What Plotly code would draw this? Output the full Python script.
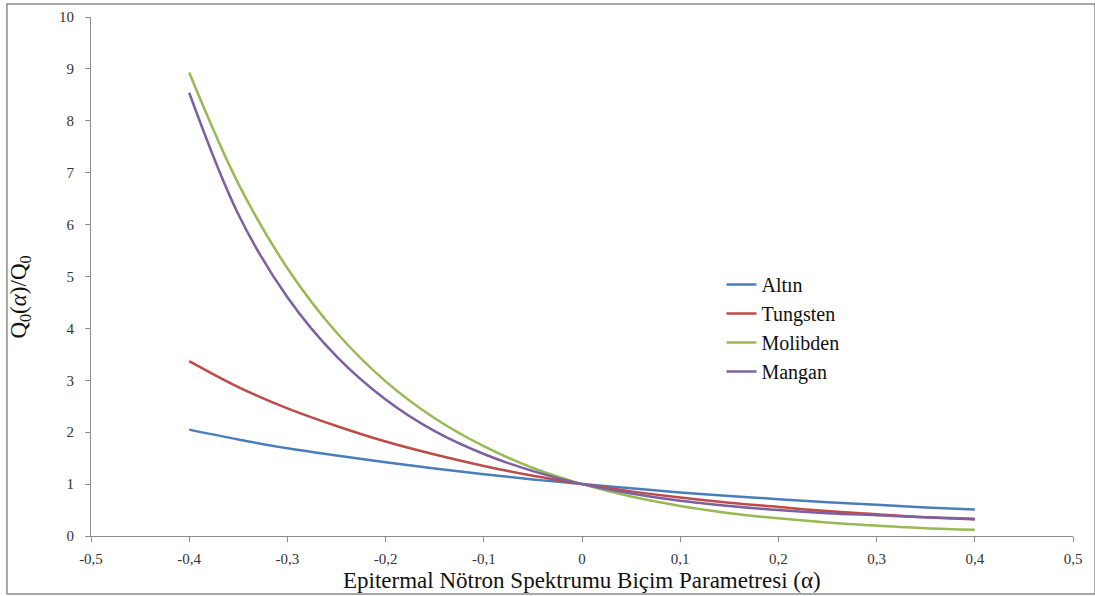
import plotly.graph_objects as go

alpha = [-0.4, -0.35, -0.3, -0.25, -0.2, -0.15, -0.1, -0.05, 0.0,
         0.05, 0.1, 0.15, 0.2, 0.25, 0.3, 0.35, 0.4]

altin = [2.05, 1.86, 1.69, 1.55, 1.42, 1.30, 1.19, 1.09, 1.00,
         0.92, 0.84, 0.77, 0.71, 0.65, 0.60, 0.55, 0.51]
tungsten = [3.37, 2.87, 2.46, 2.12, 1.82, 1.57, 1.35, 1.16, 1.00,
            0.86, 0.74, 0.64, 0.56, 0.48, 0.42, 0.36, 0.32]
molibden = [8.93, 6.79, 5.16, 3.92, 2.98, 2.27, 1.73, 1.31, 1.00,
            0.76, 0.58, 0.44, 0.34, 0.26, 0.20, 0.15, 0.12]
mangan = [8.54, 6.20, 4.60, 3.46, 2.63, 2.02, 1.58, 1.25, 1.00,
          0.82, 0.68, 0.58, 0.50, 0.44, 0.40, 0.36, 0.33]

series = [("Altın", altin, "#4A7EBB"),
          ("Tungsten", tungsten, "#BE4B48"),
          ("Molibden", molibden, "#98B954"),
          ("Mangan", mangan, "#7D60A0")]

x_ticks = [-0.5, -0.4, -0.3, -0.2, -0.1, 0.0, 0.1, 0.2, 0.3, 0.4, 0.5]
x_ticktext = ["-0,5", "-0,4", "-0,3", "-0,2", "-0,1", "0", "0,1", "0,2", "0,3", "0,4", "0,5"]
y_ticks = [0, 1, 2, 3, 4, 5, 6, 7, 8, 9, 10]

fig = go.Figure()
for name, vals, col in series:
    fig.add_trace(go.Scatter(x=alpha, y=vals, name=name, mode="lines",
                             line=dict(color=col, width=2.5, shape="spline")))

serif = "Liberation Serif"
axis_col = "#8c8c8c"

fig.update_layout(
    width=1095, height=596,
    margin=dict(l=91, r=22, t=17, b=60),
    paper_bgcolor="white", plot_bgcolor="white",
    font=dict(family=serif, color="#222"),
    showlegend=True,
    legend=dict(x=0.642, y=0.522, xanchor="left", yanchor="top",
                font=dict(family=serif, size=20, color="#111"),
                bgcolor="rgba(0,0,0,0)", itemwidth=30, tracegroupgap=0),
    xaxis=dict(range=[-0.5, 0.5], tickvals=x_ticks, ticktext=x_ticktext,
               automargin=False,
               showgrid=False, zeroline=False, showline=True, linecolor=axis_col,
               linewidth=1, ticks="outside", ticklen=5, tickcolor=axis_col,
               ticklabelstandoff=4,
               tickfont=dict(family=serif, size=15, color="#333")),
    yaxis=dict(range=[0, 10], tickvals=y_ticks, automargin=False,
               showgrid=False, zeroline=False, showline=True, linecolor=axis_col,
               linewidth=1, ticks="outside", ticklen=5, tickcolor=axis_col,
               ticklabelstandoff=8,
               tickfont=dict(family=serif, size=15, color="#333")),
    annotations=[
        dict(text="Q<sub>0</sub>(<i>α</i>)/Q<sub>0</sub>", textangle=-90,
             xref="paper", yref="paper", x=-0.072, y=0.46,
             xanchor="center", yanchor="middle", showarrow=False,
             font=dict(family=serif, size=23, color="#111")),
        dict(text="Epitermal Nötron Spektrumu Biçim Parametresi (α)",
             xref="paper", yref="paper", x=0.5, y=-0.086,
             xanchor="center", yanchor="middle", showarrow=False,
             font=dict(family=serif, size=23, color="#111")),
    ],
    shapes=[dict(type="rect", xref="paper", yref="paper",
                 x0=-0.0856, x1=1.0224, y0=-0.1118, y1=1.025,
                 line=dict(color="#8c8c8c", width=1.5), fillcolor="rgba(0,0,0,0)")],
)

fig.write_html("out.html")
